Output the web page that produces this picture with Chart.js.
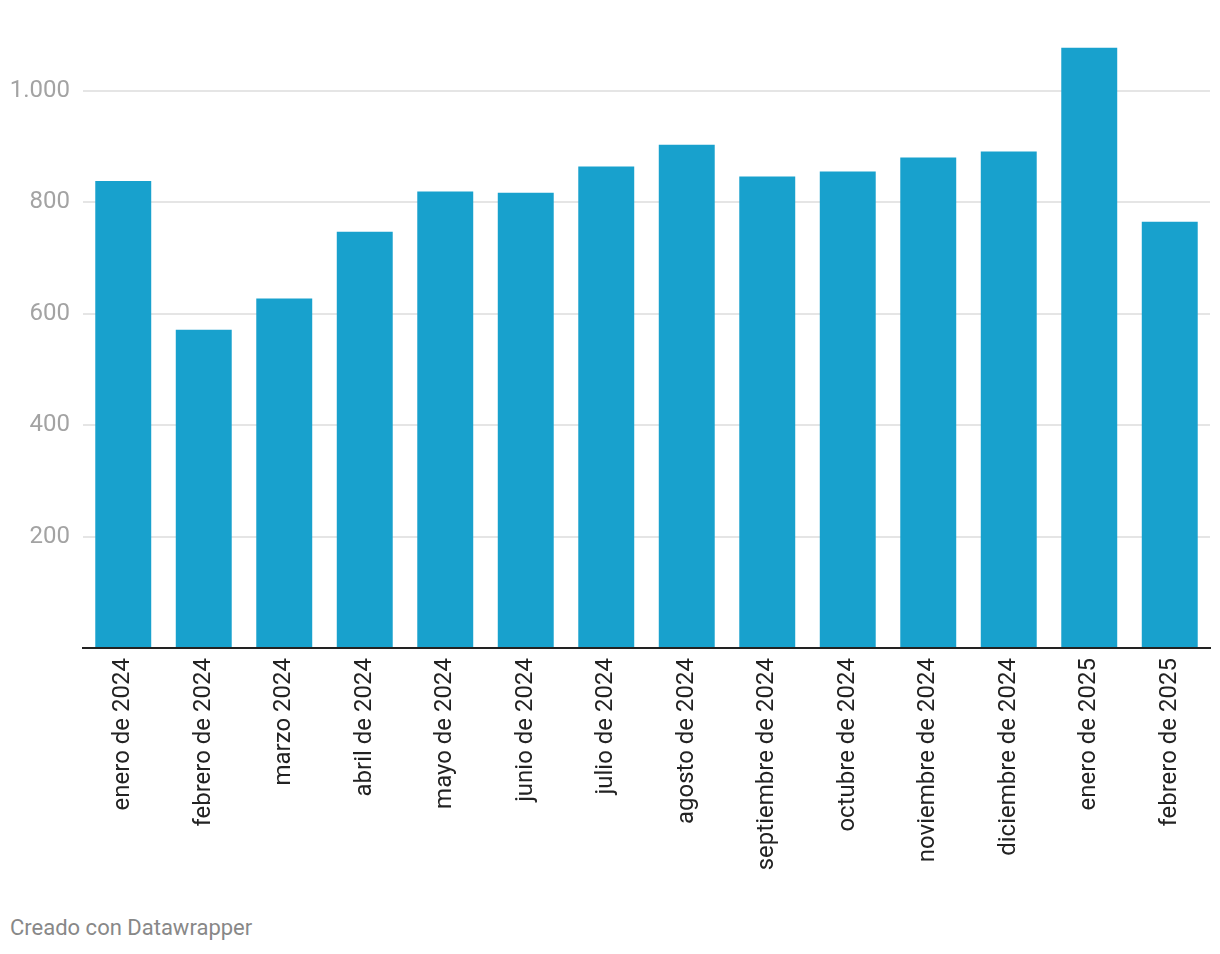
<!DOCTYPE html>
<html>
<head>
<meta charset="utf-8">
<script src="https://cdn.jsdelivr.net/npm/chart.js@4.4.1/dist/chart.umd.min.js"></script>
<style>
  html, body { margin: 0; padding: 0; background: #fff; }
  #wrap { position: relative; width: 1220px; height: 954px; }
  #c { position: absolute; left: 0; top: 0; }
  #footer { position: absolute; left: 10px; top: 915px; font-family: Roboto, sans-serif; font-size: 22px; color: #888; }
</style>
</head>
<body>
<div id="wrap">
  <canvas id="c" width="1220" height="900" style="width:1220px;height:900px"></canvas>
  <div id="footer">Creado con Datawrapper</div>
</div>
<script>
const categories = ["enero de 2024","febrero de 2024","marzo 2024","abril de 2024","mayo de 2024","junio de 2024","julio de 2024","agosto de 2024","septiembre de 2024","octubre de 2024","noviembre de 2024","diciembre de 2024","enero de 2025","febrero de 2025"];
const values = [838, 571, 627, 747, 819, 817, 864, 903, 846, 855, 880, 891, 1077, 765];
const yTicks = [200, 400, 600, 800, 1000];

function fmt(v) {
  return v.toString().replace(/\B(?=(\d{3})+(?!\d))/g, ".");
}

new Chart(document.getElementById("c"), {
  type: "bar",
  data: {
    labels: categories,
    datasets: [{
      data: values,
      backgroundColor: "#18a1cd",
      borderWidth: 0,
      barPercentage: 0.695,
      categoryPercentage: 1.0
    }]
  },
  options: {
    responsive: false,
    animation: false,
    devicePixelRatio: 1,
    layout: { padding: { top: 35, right: 10, left: 0, bottom: 0 } },
    plugins: { legend: { display: false }, tooltip: { enabled: false } },
    scales: {
      x: {
        grid: { display: false, drawTicks: false },
        border: { display: true, color: "#222", width: 2 },
        ticks: {
          minRotation: 90, maxRotation: 90, autoSkip: false, padding: 10,
          color: "#222", font: { family: "Roboto", size: 24 }
        },
        afterFit: s => { s.height = 252; }
      },
      y: {
        min: 0, max: 1100,
        grid: { color: "#e5e5e5", lineWidth: 2, drawTicks: false },
        border: { display: false },
        afterBuildTicks: s => { s.ticks = [0].concat(yTicks).map(v => ({ value: v })); },
        ticks: {
          padding: 13, color: "#a3a3a3", font: { family: "Roboto", size: 24 },
          callback: v => (v === 0 ? "" : fmt(v))
        },
        afterFit: s => { s.width = 83; }
      }
    }
  }
});
</script>
</body>
</html>
